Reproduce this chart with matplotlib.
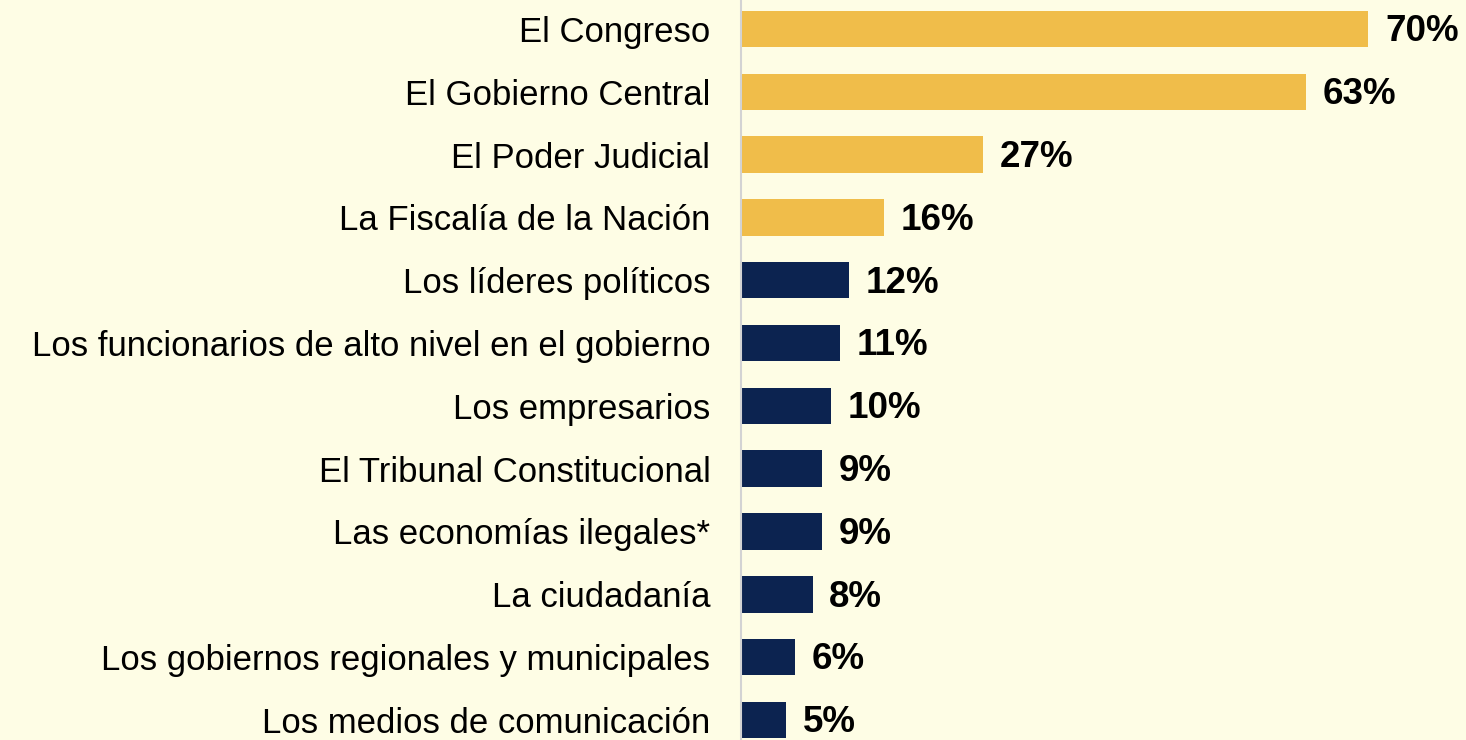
import matplotlib
matplotlib.use('Agg')
import matplotlib.pyplot as plt

# Datos
categorias = ['El Congreso', 'El Gobierno Central', 'El Poder Judicial',
              'La Fiscalía de la Nación', 'Los líderes políticos',
              'Los funcionarios de alto nivel en el gobierno', 'Los empresarios',
              'El Tribunal Constitucional', 'Las economías ilegales*',
              'La ciudadanía', 'Los gobiernos regionales y municipales',
              'Los medios de comunicación']
valores = [70, 63, 27, 16, 12, 11, 10, 9, 9, 8, 6, 5]
n_destacados = 4

fondo = '#FEFDE5'
oro = '#F0BD4A'
azul = '#0C2350'

plt.rcParams['font.family'] = ['Liberation Sans', 'DejaVu Sans']

fig = plt.figure(figsize=(14.66, 7.4), dpi=100, facecolor=fondo)
ax = fig.add_axes([741 / 1466, 0, 717 / 1466, 1])
ax.set_facecolor(fondo)

colores = [oro if i < n_destacados else azul for i in range(len(valores))]
pos = list(range(len(valores)))
ax.barh(pos, valores, height=0.58, color=colores)

for p, v in zip(pos, valores):
    ax.annotate(f'{v}%', xy=(v, p), xytext=(12, -2), textcoords='offset points',
                va='center', ha='left', fontsize=26.5, fontweight='bold',
                color='black')

ax.set_xlim(0, 80)
ax.set_ylim(11.32, -0.462)
ax.set_yticks(pos)
ax.set_yticklabels(categorias, fontsize=25)
ax.tick_params(axis='y', length=0, pad=22)
ax.set_xticks([])
for s in ['top', 'right', 'bottom']:
    ax.spines[s].set_visible(False)
ax.spines['left'].set_color('#D3D3D3')
ax.spines['left'].set_linewidth(1.5)

fig.savefig('out.png', dpi=100, facecolor=fondo)
